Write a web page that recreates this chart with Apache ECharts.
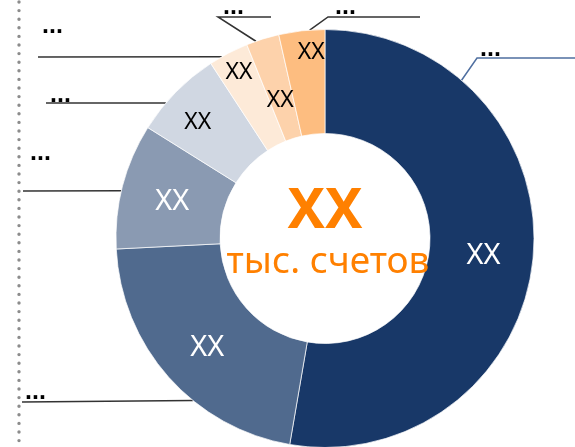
<!DOCTYPE html>
<html>
<head>
<meta charset="utf-8">
<script src="https://cdn.jsdelivr.net/npm/echarts@6/dist/echarts.min.js"></script>
<style>
  html, body { margin: 0; padding: 0; background: #fff; }
  #chart { width: 575px; height: 447px; }
</style>
</head>
<body>
<div id="chart"></div>
<script>
// доли секторов (по часовой стрелке от 12 часов), %
const sliceNames = ['A', 'B', 'C', 'D', 'E', 'F', 'G'];
const sliceValues = [52.7, 21.5, 9.7, 6.9, 3.1, 2.55, 3.55];
const innerLabels = ['XX', 'XX', 'XX', 'XX', 'XX', 'XX', 'XX'];
const outerLabels = ['...', '...', '...', '...', '...', '...', '...'];
const centerValue = 'XX';
const centerUnit = 'тыс. счетов';

const sliceColors = ['#183868', '#506a8e', '#8a9ab2', '#d0d7e2', '#fdead8', '#fdd2ab', '#fdbd80'];
const darkSlice = [true, true, true, false, false, false, false];

// раскладка подписей-выносок: угол точки на кольце, излом, конец линии, позиция текста
const leaders = [
    { angle: 40.8, elbow: [477, 58], end: [575, 58], text: [480, 49] },
    { angle: 219.2, elbow: null, end: [22, 402], text: [25, 392] },
    { angle: 283.2, elbow: null, end: [23, 191], text: [30, 153] },
    { angle: 310.4, elbow: null, end: [46, 103], text: [50, 95] },
    { angle: 330.4, elbow: null, end: [38, 57], text: [42, 26] },
    { angle: 340.7, elbow: [218, 17], end: [271, 17], text: [223, 7] },
    { angle: 355.8, elbow: [328, 17], end: [420, 17], text: [335, 7] }
];
// сдвиг внутренних подписей (узкие сектора подписаны ближе к краю)
const innerShift = [[-1, 4], [2, 3], [2, 4], [-13, -4], [-12, -24], [3, 15], [4, -27]];

const center = [325, 238.5];
const rOuter = 209, rInner = 105;

const chart = echarts.init(document.getElementById('chart'));

function ringPoint(deg) {
    const a = deg * Math.PI / 180;
    return [center[0] + rOuter * Math.sin(a), center[1] - rOuter * Math.cos(a)];
}

const option = {
    animation: false,
    graphic: [
        {
            type: 'line',
            shape: { x1: 19, y1: 2, x2: 19, y2: 447 },
            style: { stroke: '#8c8c8c', lineWidth: 3.4, lineDash: [0, 8.6], lineCap: 'round' }
        },
        {
            type: 'text', x: center[0], y: 212, z: 10,
            style: {
                text: centerValue, fill: '#ff8000', font: 'bold 56px "Noto Sans"',
                textAlign: 'center', textVerticalAlign: 'middle'
            }
        },
        {
            type: 'text', x: 328, y: 262, z: 10,
            style: {
                text: centerUnit, fill: '#ff8000', font: '37px "Noto Sans"',
                textAlign: 'center', textVerticalAlign: 'middle'
            }
        }
    ],
    series: [
        {
            type: 'pie',
            center: center,
            radius: [rInner, rOuter],
            startAngle: 90,
            avoidLabelOverlap: false,
            silent: true,
            itemStyle: { borderColor: '#fff', borderWidth: 0.7 },
            label: {
                show: true,
                position: 'outside',
                color: '#000',
                fontFamily: 'Liberation Sans',
                fontWeight: 'bold',
                fontSize: 25
            },
            labelLine: { show: true, lineStyle: { color: '#333', width: 1.5 } },
            labelLayout: function (params) {
                const L = leaders[params.dataIndex];
                const p0 = ringPoint(L.angle);
                const p1 = L.elbow || L.end;
                return {
                    x: L.text[0],
                    y: L.text[1],
                    align: 'left',
                    verticalAlign: 'middle',
                    labelLinePoints: [p0, p1, L.end]
                };
            },
            data: sliceValues.map(function (v, i) {
                const item = {
                    name: sliceNames[i],
                    value: v,
                    itemStyle: { color: sliceColors[i] },
                    label: { formatter: outerLabels[i] }
                };
                if (i === 0) item.labelLine = { lineStyle: { color: '#4f6fa0' } };
                return item;
            })
        },
        {
            type: 'pie',
            center: center,
            radius: [rInner, rOuter],
            startAngle: 90,
            avoidLabelOverlap: false,
            silent: true,
            itemStyle: { color: 'rgba(0,0,0,0)', borderWidth: 0 },
            label: { show: true, position: 'inside', fontFamily: 'Noto Sans' },
            labelLine: { show: false },
            labelLayout: function (params) {
                const s = innerShift[params.dataIndex];
                return { dx: s[0], dy: s[1] };
            },
            data: sliceValues.map(function (v, i) {
                return {
                    name: sliceNames[i],
                    value: v,
                    label: {
                        formatter: innerLabels[i],
                        color: darkSlice[i] ? '#fff' : '#000',
                        fontSize: darkSlice[i] ? 29 : 23
                    }
                };
            })
        }
    ]
};

chart.setOption(option);
</script>
</body>
</html>
